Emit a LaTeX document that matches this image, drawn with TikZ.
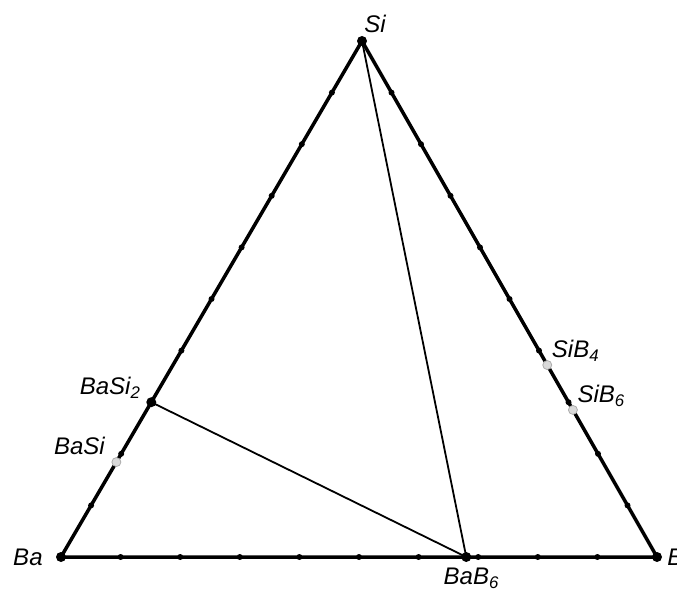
\documentclass[tikz,border=0pt]{standalone}
\usepackage{fontspec}
\setmainfont{Liberation Sans}
\usepackage{tikz}
\usetikzlibrary{positioning,calc,backgrounds}

\begin{document}
\begin{tikzpicture}[
  x=1pt, y=1pt,
  vertex/.style={circle, fill=black, inner sep=0pt, minimum size=10pt},
  tick/.style={circle, fill=black, inner sep=0pt, minimum size=6pt},
  grayphase/.style={circle, fill=gray!30, draw=gray!65, line width=0.8pt, inner sep=0pt, minimum size=9pt},
  side/.style={line width=3.5pt, line join=round},
  tie/.style={line width=1.8pt},
  lbl/.style={inner sep=0pt, font=\fontsize{24}{28}\selectfont\itshape}
]
\useasboundingbox (0,0) rectangle (677,592);

% Corners
\node[vertex] (Ba) at (61,35) {};
\node[vertex] (B) at (657,35) {};
\node[vertex] (Si) at (362,551) {};

% Ticks every tenth
\foreach \i in {1,...,9} {
  \node[tick] (ab\i) at ($(Ba)!\i/10!(B)$) {};
  \node[tick] (as\i) at ($(Ba)!\i/10!(Si)$) {};
  \node[tick] (sb\i) at ($(Si)!\i/10!(B)$) {};
}

% Compounds
\node[vertex] (BaSi2) at ($(Ba)!0.3!(Si)$) {};
\node[vertex] (BaB6) at ($(Ba)!0.68!(B)$) {};
\node[grayphase] (BaSi) at ($(Ba)!0.184!(Si)$) {};
\node[grayphase] (SiB4) at ($(Si)!0.628!(B)$) {};
\node[grayphase] (SiB6) at ($(Si)!0.715!(B)$) {};

% Sides and tie lines
\begin{scope}[on background layer]
\draw[side] (Ba.center) -- (B.center) -- (Si.center) -- cycle;
\draw[tie] (Si.center) -- (BaB6.center);
\draw[tie] (BaSi2.center) -- (BaB6.center);
\end{scope}

% Labels
\node[lbl, above=3pt of Si, xshift=13pt] {Si};
\node[lbl, left=13pt of Ba] {Ba};
\node[lbl, right=5pt of B] {B};
\node[lbl, below=6pt of BaB6, xshift=5pt] {BaB\textsubscript{6}};
\node[lbl, above right=0pt and 1pt of SiB4] {SiB\textsubscript{4}};
\node[lbl, above right=0pt and 1pt of SiB6] {SiB\textsubscript{6}};
\node[lbl, above left=0pt and 7pt of BaSi2] {BaSi\textsubscript{2}};
\node[lbl, above left=4pt and 8pt of BaSi] {BaSi};

\end{tikzpicture}
\end{document}
